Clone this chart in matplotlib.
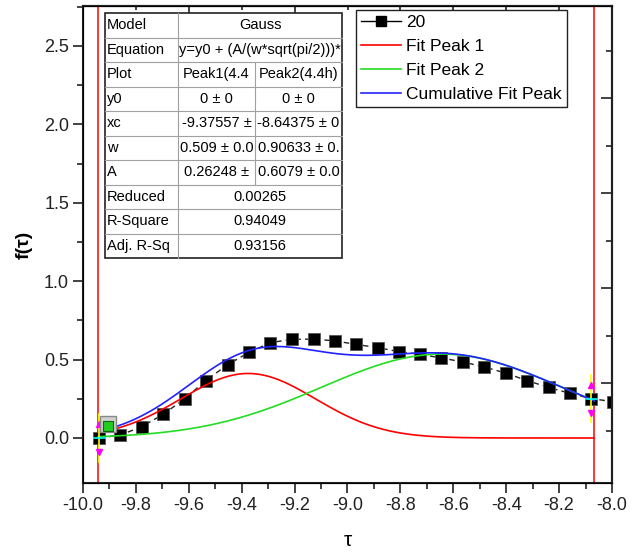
import numpy as np
import matplotlib.pyplot as plt
from matplotlib.lines import Line2D

plt.rcParams['font.family'] = ['Liberation Sans', 'DejaVu Sans']

# measured points (series "20")
tau = [-9.938, -9.859, -9.778, -9.697, -9.615, -9.536, -9.453, -9.372, -9.292,
       -9.211, -9.128, -9.047, -8.967, -8.886, -8.806, -8.726, -8.645, -8.563,
       -8.483, -8.402, -8.321, -8.240, -8.160, -8.078, -7.997]
f_tau = [0.0, 0.019, 0.072, 0.151, 0.251, 0.366, 0.468, 0.546, 0.608,
         0.629, 0.631, 0.619, 0.597, 0.576, 0.551, 0.534, 0.510, 0.485,
         0.453, 0.414, 0.366, 0.323, 0.285, 0.251, 0.232]

# Gauss fit results (from the table)
xc = [-9.37557, -8.64375]
width = [0.509, 0.90633]
area = [0.26248, 0.6079]
y0 = [0.0, 0.0]
fit_range = [-9.942, -8.068]

# table text
table_rows = [
    ["Model", "Gauss"],
    ["Equation", "y=y0 + (A/(w*sqrt(pi/2)))*"],
    ["Plot", "Peak1(4.4", "Peak2(4.4h)"],
    ["y0", "0 \u00b1 0", "0 \u00b1 0"],
    ["xc", "-9.37557 \u00b1", "-8.64375 \u00b1 0"],
    ["w", "0.509 \u00b1 0.0", "0.90633 \u00b1 0."],
    ["A", "0.26248 \u00b1", "0.6079 \u00b1 0.0"],
    ["Reduced", "0.00265"],
    ["R-Square", "0.94049"],
    ["Adj. R-Sq", "0.93156"],
]

legend_labels = ["20", "Fit Peak 1", "Fit Peak 2", "Cumulative Fit Peak"]


def gauss(x, xc, w, A, y0):
    return y0 + A / (w * np.sqrt(np.pi / 2)) * np.exp(-2 * ((x - xc) / w) ** 2)


W, H = 640, 553
fig = plt.figure(figsize=(W / 100, H / 100), dpi=100)
ax = fig.add_axes([83 / W, 1 - 483 / H, (612 - 83) / W, (483 - 6) / H])

xs = np.linspace(fit_range[0], fit_range[1], 400)
p1 = gauss(xs, xc[0], width[0], area[0], y0[0])
p2 = gauss(xs, xc[1], width[1], area[1], y0[1])

ax.plot(tau, f_tau, color='#222222', lw=1, ls=(0, (4, 3)), marker='s',
        ms=8, mfc='black', mec='#555555', mew=0.6, zorder=3)
ax.plot(xs, p1, color='red', lw=1.2, zorder=4)
ax.plot(xs, p2, color='#22dd22', lw=1.2, zorder=4)
ax.plot(xs, p1 + p2, color='#2222ff', lw=1.2, zorder=4)

# fit range markers
for xr in fit_range:
    ax.axvline(xr, color='red', lw=1.1, zorder=2)

# data reader cursors at the range ends
cursor_y = [f_tau[0], f_tau[-2]]
for xr, yc in zip([tau[0], tau[-2]], cursor_y):
    ax.plot([xr, xr], [yc - 0.15, yc + 0.15], color='yellow', lw=1.2, zorder=5)
    ax.plot([xr - 0.02, xr + 0.02], [yc, yc], color='cyan', lw=1.2, zorder=5)
    ax.plot([xr], [yc + 0.09], marker='^', ms=5, color='magenta', zorder=5)
    ax.plot([xr], [yc - 0.09], marker='v', ms=5, color='magenta', zorder=5)

# lock icon of the fit
ax.plot([-9.904], [0.087], marker='s', ms=12, mfc='#d0d0d0', mec='#888888',
        mew=1, zorder=6)
ax.plot([-9.904], [0.078], marker='s', ms=6.5, mfc='#22cc22', mec='#116611',
        mew=0.8, zorder=7)

ax.set_xlim(-10.0, -8.0)
ax.set_ylim(-0.287, 2.755)
ax.set_xticks(np.arange(-10.0, -7.99, 0.2))
ax.set_xticks(np.arange(-10.0, -7.99, 0.1), minor=True)
ax.set_xticklabels([f"{v:.1f}" for v in np.arange(-10.0, -7.99, 0.2)])
ax.set_yticks(np.arange(0, 2.6, 0.5))
ax.set_yticks(np.arange(0, 2.76, 0.25), minor=True)
ax.tick_params(axis='both', which='major', direction='out', length=7,
               width=1.2, labelsize=13, colors='#222222', pad=3)
ax.tick_params(axis='both', which='minor', direction='out', length=4,
               width=1.2, colors='#222222')
for sp in ax.spines.values():
    sp.set_linewidth(1.5)
    sp.set_color('#222222')

# top axis ticks
top = ax.secondary_xaxis('top')
top.set_xticks(np.arange(-10.0, -7.99, 0.4))
top.set_xticks(np.arange(-9.8, -8.1, 0.4), minor=True)
top.tick_params(which='major', direction='in', length=7, width=1.2,
                labeltop=False, colors='#222222')
top.tick_params(which='minor', direction='in', length=3, width=1.2,
                colors='#222222')
top.spines['top'].set_linewidth(1.5)

# right axis ticks (linked layer)
right = ax.twinx()
right.set_ylim(ax.get_ylim())
right.set_yticks(np.arange(0.348, 2.7, 0.606))
right.set_yticks(np.arange(0.045, 2.7, 0.606), minor=True)
right.tick_params(which='major', direction='in', length=8, width=1.2,
                  labelright=False, colors='#222222')
right.tick_params(which='minor', direction='in', length=4, width=1.2,
                  colors='#222222')
right.spines['right'].set_linewidth(1.5)
right.spines['right'].set_color('#222222')

ax.set_xlabel("\u03c4", fontsize=15, labelpad=12)
ax.set_ylabel("f(\u03c4)", fontsize=14, fontweight='bold', labelpad=8)

# legend
handles = [
    Line2D([], [], color='black', lw=1, marker='s', ms=7),
    Line2D([], [], color='red', lw=1.2),
    Line2D([], [], color='#22dd22', lw=1.2),
    Line2D([], [], color='#2222ff', lw=1.2),
]
leg = right.legend(handles, legend_labels, loc='upper left',
                   bbox_to_anchor=(356 / W, 1 - 10 / H),
                   bbox_transform=fig.transFigure, fontsize=12.5,
                   frameon=True, fancybox=False, edgecolor='#222222',
                   framealpha=1, borderpad=0.3, labelspacing=0.5,
                   handlelength=2.3, handletextpad=0.3, borderaxespad=0)
leg.get_frame().set_linewidth(1.0)

# parameter table drawn in pixel coordinates
ov = fig.add_axes([0, 0, 1, 1], zorder=10)
ov.set_xlim(0, W)
ov.set_ylim(H, 0)
ov.axis('off')
ov.patch.set_alpha(0)

tx0, tx1, tx2, tx3 = 105, 178, 255, 342
ty0, rh = 13, 24.5
nrows = len(table_rows)
ov.add_patch(plt.Rectangle((tx0, ty0), tx3 - tx0, rh * nrows,
                           facecolor='white', edgecolor='#222222', lw=1.2))
lc = '#a0a0a0'
for i in range(1, nrows):
    ov.plot([tx0, tx3], [ty0 + i * rh] * 2, color=lc, lw=0.8)
ov.plot([tx1, tx1], [ty0, ty0 + rh * nrows], color=lc, lw=0.8)
ov.plot([tx2, tx2], [ty0 + 2 * rh, ty0 + 7 * rh], color=lc, lw=0.8)
for i, row in enumerate(table_rows):
    yc = ty0 + (i + 0.5) * rh
    ov.text(tx0 + 2, yc, row[0], fontsize=10.5, ha='left', va='center')
    if len(row) == 2:
        ov.text((tx1 + tx3) / 2, yc, row[1], fontsize=10.5, ha='center',
                va='center')
    else:
        ov.text((tx1 + tx2) / 2, yc, row[1], fontsize=10.5, ha='center',
                va='center')
        ov.text((tx2 + tx3) / 2, yc, row[2], fontsize=10.5, ha='center',
                va='center')

fig.savefig("out.png", dpi=100)
